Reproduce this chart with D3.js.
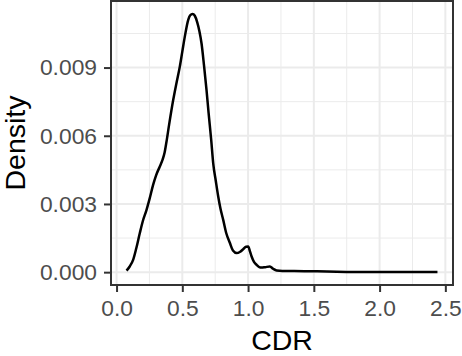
<!DOCTYPE html>
<html>
<head>
<meta charset="utf-8">
<script src="https://cdn.jsdelivr.net/npm/d3@7"></script>
<style>
    html, body { margin: 0; padding: 0; background: #fff; }
    svg text { font-family: "Liberation Sans", Arial, Helvetica, sans-serif; }
</style>
</head>
<body>
<div id="density-viz"></div>
<script>
// density curve
const cdrValues = [
    0.076, 0.10, 0.126, 0.15, 0.177, 0.20, 0.228, 0.25, 0.278, 0.30,
    0.329, 0.35, 0.365, 0.38, 0.40, 0.431, 0.455, 0.481, 0.50, 0.519,
    0.545, 0.56, 0.578, 0.595, 0.613, 0.63, 0.646, 0.665, 0.684, 0.70,
    0.72, 0.735, 0.755, 0.773, 0.79, 0.811, 0.835, 0.862, 0.885, 0.913,
    0.94, 0.963, 0.985, 1.001, 1.015, 1.027, 1.045, 1.065, 1.085, 1.103,
    1.13, 1.166, 1.19, 1.217, 1.26, 1.35, 1.47, 1.6, 1.8, 2.0,
    2.2, 2.44
];
const densityValues = [
    0.00007, 0.00025, 0.00054, 0.00105, 0.00172, 0.00225, 0.00274, 0.00320, 0.00384, 0.00425,
    0.00465, 0.00495, 0.00525, 0.00575, 0.00650, 0.00758, 0.00830, 0.00904, 0.00970, 0.01036,
    0.01110, 0.01130, 0.01136, 0.01128, 0.01100, 0.01060, 0.01007, 0.00910, 0.00802, 0.00700,
    0.00580, 0.00479, 0.00400, 0.00333, 0.00280, 0.00230, 0.00170, 0.00128, 0.00095, 0.00084,
    0.00090, 0.00101, 0.00112, 0.00113, 0.00090, 0.00069, 0.00045, 0.00032, 0.00022, 0.00020,
    0.00022, 0.00025, 0.00015, 0.00007, 0.00005, 0.00005, 0.00004, 0.00003, 0.00001, 0.00001,
    0.000005, 0.000003
];
const xTicks = [0, 0.5, 1, 1.5, 2, 2.5];
const xMinor = [0.25, 0.75, 1.25, 1.75, 2.25];
const yTicks = [0, 0.003, 0.006, 0.009];
const yMinor = [0.0015, 0.0045, 0.0075, 0.0105];

(function initDensity() {
    const width = 462;
    const height = 356;
    const panel = { left: 111, right: 453, top: 1, bottom: 285 };

    const points = cdrValues.map((c, i) => ({ x: c, y: densityValues[i] }));

    // ggplot-style 5% expansion
    const xExt = d3.extent(cdrValues);
    const yExt = d3.extent(densityValues);
    const xPad = (xExt[1] - xExt[0]) * 0.05;
    const yPad = (yExt[1] - yExt[0]) * 0.05;

    const x = d3.scaleLinear()
        .domain([xExt[0] - xPad, xExt[1] + xPad])
        .range([panel.left, panel.right]);
    const y = d3.scaleLinear()
        .domain([yExt[0] - yPad, yExt[1] + yPad])
        .range([panel.bottom, panel.top]);

    const svg = d3.select("#density-viz").append("svg")
        .attr("width", width)
        .attr("height", height)
        .attr("viewBox", `0 0 ${width} ${height}`);

    svg.append("rect")
        .attr("x", panel.left).attr("y", panel.top)
        .attr("width", panel.right - panel.left)
        .attr("height", panel.bottom - panel.top)
        .attr("fill", "#fff");

    const grid = svg.append("g");
    grid.selectAll("line.vminor").data(xMinor).enter().append("line")
        .attr("x1", d => x(d)).attr("x2", d => x(d))
        .attr("y1", panel.top).attr("y2", panel.bottom)
        .attr("stroke", "#ebebeb").attr("stroke-width", 1);
    grid.selectAll("line.hminor").data(yMinor).enter().append("line")
        .attr("y1", d => y(d)).attr("y2", d => y(d))
        .attr("x1", panel.left).attr("x2", panel.right)
        .attr("stroke", "#ebebeb").attr("stroke-width", 1);
    grid.selectAll("line.vmajor").data(xTicks).enter().append("line")
        .attr("x1", d => x(d)).attr("x2", d => x(d))
        .attr("y1", panel.top).attr("y2", panel.bottom)
        .attr("stroke", "#ebebeb").attr("stroke-width", 2);
    grid.selectAll("line.hmajor").data(yTicks).enter().append("line")
        .attr("y1", d => y(d)).attr("y2", d => y(d))
        .attr("x1", panel.left).attr("x2", panel.right)
        .attr("stroke", "#ebebeb").attr("stroke-width", 2);

    const line = d3.line()
        .x(d => x(d.x))
        .y(d => y(d.y))
        .curve(d3.curveMonotoneX);

    svg.append("path")
        .datum(points)
        .attr("d", line)
        .attr("fill", "none")
        .attr("stroke", "#000")
        .attr("stroke-width", 2.5)
        .attr("stroke-linejoin", "round");

    svg.append("rect")
        .attr("x", panel.left).attr("y", panel.top)
        .attr("width", panel.right - panel.left)
        .attr("height", panel.bottom - panel.top)
        .attr("fill", "none")
        .attr("stroke", "#333")
        .attr("stroke-width", 2);

    const xAxis = d3.axisBottom(x)
        .tickValues(xTicks)
        .tickSize(6)
        .tickPadding(8)
        .tickFormat(d3.format(".1f"));
    const gx = svg.append("g")
        .attr("transform", `translate(0,${panel.bottom + 1})`)
        .call(xAxis);

    const yAxis = d3.axisLeft(y)
        .tickValues(yTicks)
        .tickSize(6)
        .tickPadding(7)
        .tickFormat(d3.format(".3f"));
    const gy = svg.append("g")
        .attr("transform", `translate(${panel.left - 1},0)`)
        .call(yAxis);

    [gx, gy].forEach(g => {
        g.select(".domain").remove();
        g.selectAll(".tick line").attr("stroke", "#333").attr("stroke-width", 2);
        g.selectAll(".tick text")
            .attr("fill", "#4d4d4d")
            .attr("font-size", 22.8)
            .style("font-family", "'Liberation Sans', Arial, Helvetica, sans-serif");
    });

    svg.append("text")
        .attr("x", (panel.left + panel.right) / 2)
        .attr("y", 350)
        .attr("text-anchor", "middle")
        .attr("font-size", 28.5)
        .attr("fill", "#000")
        .text("CDR");

    svg.append("text")
        .attr("transform", `translate(25,${(panel.top + panel.bottom) / 2}) rotate(-90)`)
        .attr("text-anchor", "middle")
        .attr("font-size", 28.5)
        .attr("fill", "#000")
        .text("Density");
}());
</script>
</body>
</html>
